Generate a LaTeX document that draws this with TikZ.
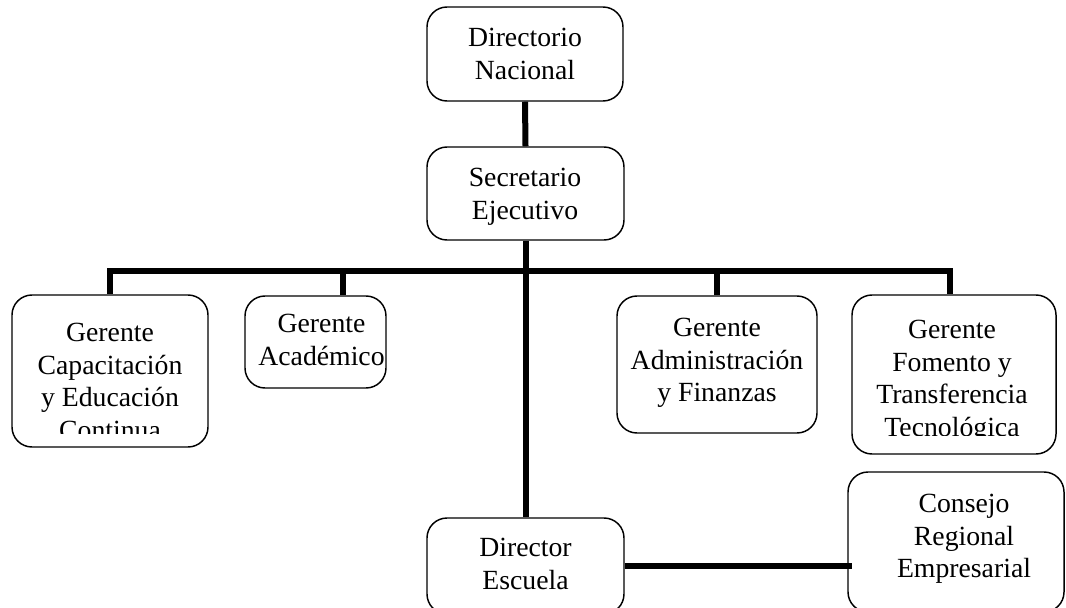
\documentclass[tikz,border=0pt]{standalone}
\usepackage{fontspec}
\setmainfont{Liberation Serif}
\usetikzlibrary{positioning}
\usetikzlibrary{calc}
\tikzstyle{box}=[draw,rounded corners=15pt,line width=1.1pt,inner sep=0pt]
\tikzstyle{boxtext}=[align=center,anchor=north,inner sep=0pt,font=\fontsize{20.8}{24.5}\selectfont]
\tikzstyle{link}=[draw,line width=4.5pt]

\begin{document}
\begin{tikzpicture}[x=0.75pt,y=-0.75pt]

    \clip (0,0) rectangle (1066,607);

    % First we draw the boxes
    \foreach \pos/\name/\w/\h in {{(525,54)/DN/147/70.5}, {(525.5,193.5)/SE/147.75/69.75}, {(110,371)/GC/147/114}, {(315.5,342)/GA/105.75/69}, {(717,364.5)/GAF/150/102.75}, {(954,374.5)/GF/153/119.25}, {(525.5,566)/DE/147.75/72}, {(956,542)/CR/162/105}}
        \node[box,minimum width=\w pt,minimum height=\h pt] (\name) at \pos {};

    % Then the texts inside them
    \foreach \pos/\name/\txt in {{(525,28)/DN/{Directorio\\Nacional}}, {(525,168)/SE/{Secretario\\Ejecutivo}}, {(321.5,314)/GA/{Gerente\\Académico}}, {(717,318)/GAF/{Gerente\\Administración\\y Finanzas}}, {(525.5,538)/DE/{Director\\Escuela}}, {(964,494)/CR/{Consejo\\Regional\\Empresarial}}}
        \node[boxtext] (\name t) at \pos {\txt};

    % the last line of these two is cut off
    \begin{scope}
    \clip (12,295) rectangle (208,433);
    \node[boxtext] (GCt) at (110,323) {Gerente\\Capacitación\\y Educación\\Continua};
    \end{scope}
    \begin{scope}
    \clip (852,295) rectangle (1056,435);
    \node[boxtext] (GFt) at (952,320) {Gerente\\Fomento y\\Transferencia\\Tecnológica};
    \end{scope}

    % Connect boxes
    \coordinate (bus) at (525,271);
    \path[link] (DN.south) -- (SE.north);
    \path[link] (SE.south) -- (DE.north);
    \path[link] (bus) -| (GC.north);
    \path[link] (bus) -| ($(GA.north)+(27.5,0)$);
    \path[link] (bus) -| (GAF.north);
    \path[link] (bus) -| ($(GF.north)+(-4,0)$);
    \path[link] (DE.east) -- ($(DE.east -| CR.west)+(5,0)$);

\end{tikzpicture}
\end{document}
